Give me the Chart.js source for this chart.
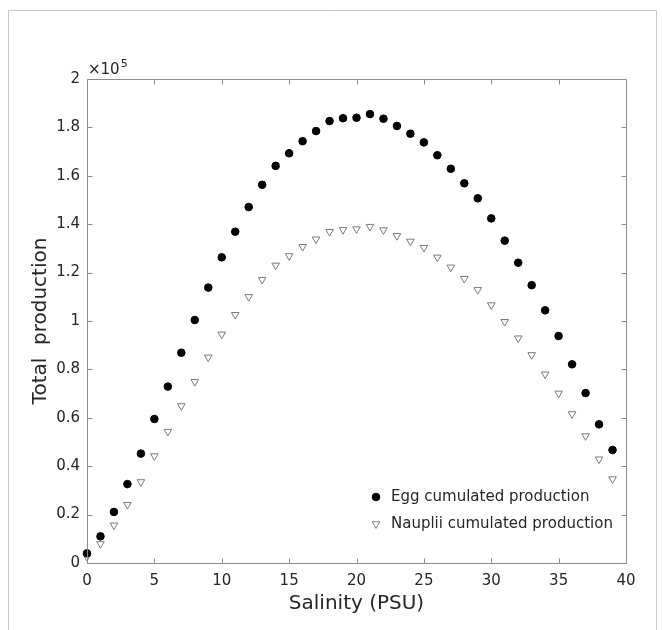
<!DOCTYPE html>
<html lang="en">
<head>
    <meta charset="UTF-8">
    <title>Total production vs salinity</title>
    <script src="https://cdn.jsdelivr.net/npm/chart.js"></script>
    <style>
        body { margin: 0; background: #fff; }
        #wrap { position: relative; width: 662px; height: 630px; }
    </style>
</head>
<body>
<div id="wrap"><canvas id="prodChart" width="662" height="630"></canvas></div>

<script>
    // salinity (PSU) on x, total production on y
    const salinity = [0, 1, 2, 3, 4, 5, 6, 7, 8, 9, 10, 11, 12, 13, 14, 15, 16, 17, 18, 19,
                      20, 21, 22, 23, 24, 25, 26, 27, 28, 29, 30, 31, 32, 33, 34, 35, 36, 37, 38, 39];
    const eggProduction = [4000, 11000, 21100, 32600, 45200, 59500, 72900, 86900, 100400, 113800,
                           126300, 136900, 147100, 156300, 164100, 169300, 174300, 178500, 182600, 183800,
                           184000, 185500, 183600, 180600, 177400, 173800, 168500, 162900, 156900, 150700,
                           142400, 133200, 124100, 114800, 104400, 93800, 82100, 70200, 57300, 46700];
    const naupliiProduction = [2600, 7900, 15600, 24100, 33500, 44200, 54300, 64900, 74900, 85000,
                               94500, 102600, 110000, 117100, 123000, 126900, 130700, 133800, 136900, 137700,
                               138000, 139000, 137600, 135200, 132900, 130300, 126300, 122200, 117500, 112900,
                               106600, 99700, 92900, 86000, 78000, 70100, 61600, 52500, 42900, 34700];
    const xTicks = [0, 5, 10, 15, 20, 25, 30, 35, 40];
    const yTicks = [0, 20000, 40000, 60000, 80000, 100000, 120000, 140000, 160000, 180000, 200000];
    const yTickLabels = ['0', '0.2', '0.4', '0.6', '0.8', '1', '1.2', '1.4', '1.6', '1.8', '2'];
    const seriesNames = ['Egg cumulated production', 'Nauplii cumulated production'];

    const FONT = '"DejaVu Sans", sans-serif';
    const TEXT = '#262626';
    const AXIS = '#8c8c8c';

    const toPoints = (ys) => salinity.map((s, i) => ({ x: s, y: ys[i] }));

    const eggStyle = { pointStyle: 'circle', radius: 3.8, rotation: 0, borderWidth: 1 };
    const naupStyle = { pointStyle: 'triangle', radius: 4.4, rotation: 180, borderWidth: 1 };

    // box, inward ticks, outer frame, x10^5 note and legend
    const decorations = {
        id: 'decorations',
        beforeDraw(chart) {
            const ctx = chart.ctx;
            ctx.save();
            ctx.strokeStyle = '#c8c8c8';
            ctx.lineWidth = 1;
            ctx.beginPath();
            ctx.moveTo(8.5, 640);
            ctx.lineTo(8.5, 10.5);
            ctx.lineTo(656.5, 10.5);
            ctx.lineTo(656.5, 640);
            ctx.stroke();
            ctx.restore();
        },
        afterDraw(chart) {
            const ctx = chart.ctx;
            const a = chart.chartArea;
            const xs = chart.scales.x, ys = chart.scales.y;
            const L = Math.round(a.left) + 0.5, R = Math.round(a.right) + 0.5;
            const T = Math.round(a.top) + 0.5, B = Math.round(a.bottom) + 0.5;
            ctx.save();
            ctx.strokeStyle = AXIS;
            ctx.lineWidth = 1;
            ctx.beginPath();
            ctx.rect(L, T, R - L, B - T);
            xTicks.forEach(v => {
                const px = Math.round(xs.getPixelForValue(v)) + 0.5;
                ctx.moveTo(px, B); ctx.lineTo(px, B - 5);
                ctx.moveTo(px, T); ctx.lineTo(px, T + 5);
            });
            yTicks.forEach(v => {
                const py = Math.round(ys.getPixelForValue(v)) + 0.5;
                ctx.moveTo(L, py); ctx.lineTo(L + 5, py);
                ctx.moveTo(R, py); ctx.lineTo(R - 5, py);
            });
            ctx.stroke();

            // exponent note
            ctx.fillStyle = TEXT;
            ctx.textBaseline = 'alphabetic';
            ctx.textAlign = 'left';
            ctx.font = '15px ' + FONT;
            ctx.fillText('\u00d710', a.left + 1, a.top - 5);
            const w = ctx.measureText('\u00d710').width;
            ctx.font = '11px ' + FONT;
            ctx.fillText('5', a.left + 1 + w + 1, a.top - 12);

            // legend
            const lx = 376, ly = [497, 524];
            ctx.font = '15px ' + FONT;
            ctx.textBaseline = 'middle';
            chart.data.datasets.forEach((ds, i) => {
                const st = i === 0 ? eggStyle : naupStyle;
                ctx.fillStyle = ds.backgroundColor;
                ctx.strokeStyle = ds.borderColor;
                ctx.lineWidth = 1;
                Chart.helpers.drawPoint(ctx, st, lx, ly[i]);
                ctx.fillStyle = TEXT;
                ctx.fillText(seriesNames[i], 391, ly[i]);
            });
            ctx.restore();
        }
    };

    const ctx = document.getElementById('prodChart').getContext('2d');
    new Chart(ctx, {
        type: 'scatter',
        data: {
            datasets: [{
                label: seriesNames[0],
                data: toPoints(eggProduction),
                pointStyle: 'circle',
                pointRadius: eggStyle.radius,
                backgroundColor: '#000000',
                borderColor: '#000000',
                borderWidth: 1,
                clip: false
            }, {
                label: seriesNames[1],
                data: toPoints(naupliiProduction),
                pointStyle: 'triangle',
                pointRotation: 180,
                pointRadius: naupStyle.radius,
                backgroundColor: '#ffffff',
                borderColor: '#7a7a7a',
                borderWidth: 1,
                clip: false
            }]
        },
        options: {
            responsive: false,
            animation: false,
            events: [],
            layout: { padding: { left: 0, right: 36, top: 79, bottom: 0 } },
            plugins: {
                legend: { display: false },
                tooltip: { enabled: false }
            },
            scales: {
                x: {
                    type: 'linear',
                    min: 0, max: 40,
                    afterBuildTicks: (s) => { s.ticks = xTicks.map(v => ({ value: v })); },
                    afterFit: (s) => { s.height = 67; },
                    grid: { display: false, drawTicks: false },
                    border: { display: false },
                    ticks: { color: TEXT, font: { family: FONT, size: 15 }, padding: 9, maxRotation: 0 },
                    title: {
                        display: true, text: 'Salinity (PSU)', color: TEXT,
                        font: { family: FONT, size: 20 }, padding: { top: 0, bottom: 14 }
                    }
                },
                y: {
                    type: 'linear',
                    min: 0, max: 200000,
                    afterBuildTicks: (s) => { s.ticks = yTicks.map(v => ({ value: v })); },
                    afterFit: (s) => { s.width = 87; },
                    grid: { display: false, drawTicks: false },
                    border: { display: false },
                    ticks: {
                        color: TEXT, font: { family: FONT, size: 15 }, padding: 7,
                        callback: (v) => yTickLabels[yTicks.indexOf(v)]
                    },
                    title: {
                        display: true, text: 'Total  production', color: TEXT,
                        font: { family: FONT, size: 20 }, padding: { top: 29, bottom: 0 }
                    }
                }
            }
        },
        plugins: [decorations]
    });
</script>
</body>
</html>
